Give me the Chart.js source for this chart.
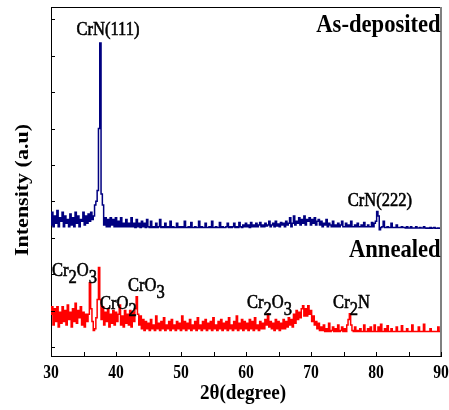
<!DOCTYPE html>
<html>
<head>
<meta charset="utf-8">
<script src="https://cdn.jsdelivr.net/npm/chart.js@4/dist/chart.umd.min.js"></script>
<style>
  body { margin: 0; background: #fff; }
  canvas { display: block; }
</style>
</head>
<body>
<canvas id="xrdChart" width="449" height="410"></canvas>
<script>
// 2theta grid: 30 to 90 deg, 0.2 deg step
const startAngle = 30;
const stepAngle = 0.2;

// As-deposited (offset trace, arbitrary units)
const asDeposited = [
  3.35, 3.7, 3.3, 3.6, 3.4, 3.75, 3.3, 3.55, 3.45, 3.7,
  3.3, 3.6, 3.4, 3.5, 3.3, 3.65, 3.35, 3.55, 3.3, 3.7,
  3.4, 3.6, 3.3, 3.5, 3.45, 3.7, 3.35, 3.6, 3.4, 3.65,
  3.45, 3.7, 3.5, 3.6, 3.9, 4.0, 4.3, 6.0, 8.35, 4.2,
  3.9, 3.35, 3.55, 3.3, 3.5, 3.3, 3.55, 3.35, 3.5, 3.3,
  3.55, 3.3, 3.45, 3.3, 3.55, 3.3, 3.4, 3.3, 3.5, 3.3,
  3.4, 3.3, 3.55, 3.3, 3.4, 3.28, 3.5, 3.3, 3.4, 3.28,
  3.45, 3.3, 3.4, 3.28, 3.5, 3.3, 3.28, 3.45, 3.28, 3.3,
  3.28, 3.4, 3.28, 3.3, 3.5, 3.28, 3.3, 3.28, 3.4, 3.28,
  3.3, 3.28, 3.45, 3.28, 3.3, 3.28, 3.28, 3.4, 3.28, 3.3,
  3.28, 3.3, 3.28, 3.45, 3.28, 3.28, 3.3, 3.28, 3.42, 3.28,
  3.28, 3.3, 3.28, 3.28, 3.45, 3.28, 3.3, 3.28, 3.28, 3.4,
  3.28, 3.28, 3.3, 3.28, 3.45, 3.28, 3.28, 3.3, 3.28, 3.28,
  3.42, 3.28, 3.3, 3.28, 3.28, 3.3, 3.4, 3.28, 3.3, 3.28,
  3.3, 3.4, 3.28, 3.3, 3.28, 3.42, 3.3, 3.28, 3.35, 3.3,
  3.4, 3.3, 3.35, 3.28, 3.42, 3.3, 3.35, 3.3, 3.4, 3.3,
  3.35, 3.42, 3.3, 3.35, 3.3, 3.4, 3.32, 3.35, 3.45, 3.3,
  3.35, 3.4, 3.3, 3.45, 3.32, 3.38, 3.3, 3.42, 3.35, 3.4,
  3.3, 3.45, 3.35, 3.4, 3.55, 3.3, 3.4, 3.6, 3.35, 3.45,
  3.4, 3.55, 3.35, 3.5, 3.4, 3.6, 3.35, 3.5, 3.45, 3.55,
  3.35, 3.5, 3.4, 3.55, 3.35, 3.45, 3.5, 3.35, 3.45, 3.3,
  3.4, 3.35, 3.5, 3.3, 3.4, 3.35, 3.3, 3.45, 3.3, 3.35,
  3.3, 3.4, 3.3, 3.35, 3.45, 3.3, 3.3, 3.4, 3.3, 3.35,
  3.3, 3.45, 3.3, 3.3, 3.35, 3.3, 3.4, 3.3, 3.3, 3.35,
  3.3, 3.42, 3.3, 3.3, 3.35, 3.3, 3.3, 3.42, 3.3, 3.4,
  3.45, 3.72, 3.6, 3.22, 3.28, 3.3, 3.45, 3.28, 3.28, 3.3,
  3.28, 3.28, 3.4, 3.28, 3.28, 3.28, 3.35, 3.28, 3.28, 3.28,
  3.3, 3.28, 3.28, 3.27, 3.3, 3.27, 3.27, 3.3, 3.27, 3.27,
  3.27, 3.3, 3.27, 3.27, 3.28, 3.27, 3.27, 3.3, 3.27, 3.26,
  3.27, 3.26, 3.28, 3.26, 3.27, 3.28, 3.26, 3.26, 3.27, 3.26,
  3.26
];

// Annealed (lower trace)
const annealed = [
  0.9, 1.1, 0.6, 1.05, 0.7, 1.1, 0.55, 0.95, 0.65, 1.1,
  0.7, 1.0, 0.6, 1.15, 0.75, 0.95, 0.55, 1.05, 0.7, 1.2,
  0.65, 1.0, 0.8, 1.1, 0.6, 0.95, 0.55, 0.9, 0.7, 0.9,
  1.76, 1.05, 0.7, 0.45, 0.5, 0.8, 1.3, 2.18, 1.3, 0.75,
  1.1, 0.6, 0.95, 0.7, 1.05, 0.55, 0.9, 0.65, 1.0, 0.6,
  0.95, 0.7, 0.9, 1.15, 0.6, 0.85, 0.55, 1.0, 0.65, 0.9,
  0.6, 1.0, 0.55, 0.95, 0.7, 1.05, 1.38, 0.9, 0.6, 0.85,
  0.5, 0.75, 0.45, 0.7, 0.5, 0.65, 0.45, 0.75, 0.5, 0.6,
  0.45, 0.85, 0.5, 0.65, 0.45, 0.7, 0.5, 0.8, 0.45, 0.6,
  0.5, 0.7, 0.45, 0.75, 0.5, 0.6, 0.45, 0.7, 0.5, 0.65,
  0.45, 0.85, 0.5, 0.7, 0.45, 0.65, 0.5, 0.75, 0.45, 0.6,
  0.5, 0.7, 0.45, 0.8, 0.5, 0.6, 0.45, 0.7, 0.5, 0.75,
  0.45, 0.65, 0.5, 0.7, 0.45, 0.8, 0.5, 0.6, 0.45, 0.7,
  0.5, 0.75, 0.45, 0.65, 0.5, 0.7, 0.45, 0.8, 0.5, 0.6,
  0.45, 0.7, 0.5, 0.85, 0.45, 0.65, 0.5, 0.75, 0.45, 0.7,
  0.5, 0.65, 0.45, 0.75, 0.5, 0.7, 0.45, 0.8, 0.5, 0.6,
  0.45, 0.7, 0.5, 0.65, 0.5, 0.75, 0.6, 0.91, 0.55, 0.7,
  0.5, 0.65, 0.45, 0.75, 0.5, 0.7, 0.45, 0.65, 0.5, 0.75,
  0.5, 0.7, 0.55, 0.8, 0.6, 0.75, 0.55, 0.9, 0.65, 1.0,
  0.75, 0.95, 0.8, 1.05, 1.13, 0.85, 1.05, 0.85, 1.13, 0.9,
  1.0, 0.7, 0.85, 0.6, 0.7, 0.5, 0.65, 0.45, 0.55, 0.45,
  0.6, 0.42, 0.5, 0.42, 0.65, 0.42, 0.45, 0.55, 0.42, 0.5,
  0.42, 0.6, 0.42, 0.45, 0.55, 0.42, 0.5, 0.42, 0.6, 0.75,
  0.91, 0.6, 0.45, 0.42, 0.55, 0.42, 0.45, 0.42, 0.5, 0.42,
  0.42, 0.6, 0.42, 0.42, 0.5, 0.42, 0.55, 0.42, 0.42, 0.6,
  0.42, 0.42, 0.55, 0.42, 0.62, 0.42, 0.42, 0.5, 0.42, 0.58,
  0.42, 0.42, 0.5, 0.42, 0.42, 0.42, 0.55, 0.42, 0.42, 0.42,
  0.58, 0.42, 0.42, 0.42, 0.5, 0.42, 0.42, 0.42, 0.6, 0.42,
  0.42, 0.42, 0.42, 0.55, 0.42, 0.42, 0.42, 0.62, 0.42, 0.42,
  0.42, 0.42, 0.5, 0.42, 0.42, 0.42, 0.42, 0.42, 0.55, 0.42,
  0.42
];

const xTicks = [30, 40, 50, 60, 70, 80, 90];
const xMinorTicks = [35, 45, 55, 65, 75, 85];
const yTicks = [0, 1, 2, 3, 4, 5, 6, 7, 8, 9];

// peak labels: text parts (sub = subscript), anchor in data units
const peakLabels = [
  { parts: ['CrN(111)'], x: 38.77, y: 8.57, align: 'center' },
  { parts: ['CrN(222)'], x: 80.6, y: 3.86, align: 'center' },
  { parts: ['Cr', { sub: '2' }, 'O', { sub: '3' }], x: 30.15, y: 1.96, align: 'left' },
  { parts: ['CrO', { sub: '2' }], x: 37.54, y: 1.05, align: 'left' },
  { parts: ['CrO', { sub: '3' }], x: 41.85, y: 1.54, align: 'left' },
  { parts: ['Cr', { sub: '2' }, 'O', { sub: '3' }], x: 60.15, y: 1.07, align: 'left' },
  { parts: ['Cr', { sub: '2' }, 'N'], x: 73.4, y: 1.07, align: 'left' }
];
const sampleLabels = [
  { text: 'As-deposited', x: 89.95, y: 8.65 },
  { text: 'Annealed', x: 89.95, y: 2.48 }
];

const toPoints = vals => vals.map((v, i) => ({ x: +(startAngle + i * stepAngle).toFixed(1), y: v }));

const SERIF = '"Liberation Serif", "Times New Roman", serif';
const SQUEEZE = 0.87; // text in the picture is slightly narrow

function drawParts(ctx, parts, x, y, align, size, weight, heavy) {
  const mainFont = weight + ' ' + size + 'px ' + SERIF;
  const subFont = weight + ' ' + size + 'px ' + SERIF;
  let total = 0;
  parts.forEach(p => {
    ctx.font = typeof p === 'string' ? mainFont : subFont;
    total += ctx.measureText(typeof p === 'string' ? p : p.sub).width;
  });
  ctx.save();
  ctx.translate(x, y);
  ctx.scale(SQUEEZE, 1);
  let cx = align === 'center' ? -total / 2 : align === 'right' ? -total : 0;
  ctx.textAlign = 'left';
  ctx.textBaseline = 'alphabetic';
  ctx.lineWidth = 0.6;
  ctx.strokeStyle = ctx.fillStyle;
  parts.forEach(p => {
    const sub = typeof p !== 'string';
    const t = sub ? p.sub : p;
    ctx.font = sub ? subFont : mainFont;
    ctx.fillText(t, cx, sub ? 7 : 0);
    if (heavy) ctx.strokeText(t, cx, sub ? 7 : 0);
    cx += ctx.measureText(t).width;
  });
  ctx.restore();
}

const xrdText = {
  id: 'xrdText',
  afterDraw(chart) {
    const { ctx, chartArea: a, scales: { x, y } } = chart;
    ctx.save();
    // frame
    ctx.lineWidth = 1;
    ctx.strokeStyle = '#000';
    ctx.beginPath();
    ctx.moveTo(a.left, a.top + 0.5);
    ctx.lineTo(a.right, a.top + 0.5);
    ctx.stroke();
    ctx.strokeStyle = '#808080';
    ctx.lineWidth = 2;
    ctx.beginPath();
    ctx.moveTo(a.right, a.top);
    ctx.lineTo(a.right, a.bottom);
    ctx.stroke();
    // inward ticks
    ctx.strokeStyle = '#000';
    ctx.lineWidth = 1;
    ctx.beginPath();
    xTicks.concat(xMinorTicks).forEach(v => {
      const px = Math.round(x.getPixelForValue(v)) + 0.5;
      ctx.moveTo(px, a.bottom);
      ctx.lineTo(px, a.bottom - 4);
    });
    yTicks.forEach(v => {
      const py = Math.round(y.getPixelForValue(v)) + 0.5;
      ctx.moveTo(a.left, py);
      ctx.lineTo(a.left + 4, py);
    });
    ctx.stroke();
    ctx.fillStyle = '#000';
    // x tick labels
    xTicks.forEach(v => drawParts(ctx, [String(v)], x.getPixelForValue(v), a.bottom + 22, 'center', 18, 'bold'));
    // axis titles
    drawParts(ctx, ['2θ(degree)'], (a.left + a.right) / 2 - 3, a.bottom + 43, 'center', 22, 'bold');
    ctx.save();
    ctx.translate(28, 190);
    ctx.scale(SQUEEZE, 1);
    ctx.rotate(-Math.PI / 2);
    ctx.font = 'bold 22px ' + SERIF;
    ctx.textAlign = 'center';
    ctx.textBaseline = 'alphabetic';
    ctx.fillText('Intensity (a.u)', 0, 0);
    ctx.restore();
    // labels
    sampleLabels.forEach(l => drawParts(ctx, [l.text], x.getPixelForValue(l.x), y.getPixelForValue(l.y), 'right', 26, 'bold'));
    peakLabels.forEach(l => drawParts(ctx, l.parts, x.getPixelForValue(l.x), y.getPixelForValue(l.y), l.align, 19, 'normal', true));
    ctx.restore();
  }
};

new Chart(document.getElementById('xrdChart').getContext('2d'), {
  type: 'line',
  data: {
    datasets: [
      { label: 'As-deposited', data: toPoints(asDeposited), borderColor: '#000080', borderWidth: 1.5, stepped: 'middle' },
      { label: 'Annealed', data: toPoints(annealed), borderColor: '#ff0000', borderWidth: 1.5, stepped: 'middle' }
    ]
  },
  options: {
    responsive: false,
    animation: false,
    layout: { padding: { left: 43, right: 8, top: 7, bottom: 46 } },
    elements: { point: { radius: 0 }, line: { tension: 0 } },
    plugins: { legend: { display: false }, tooltip: { enabled: false } },
    scales: {
      x: {
        type: 'linear', min: 30, max: 90,
        grid: { display: false },
        ticks: { display: false },
        border: { display: true, color: '#000', width: 1 }
      },
      y: {
        min: -0.25, max: 9.34,
        grid: { display: false },
        ticks: { display: false },
        border: { display: true, color: '#000', width: 1 }
      }
    }
  },
  plugins: [xrdText]
});
</script>
</body>
</html>
